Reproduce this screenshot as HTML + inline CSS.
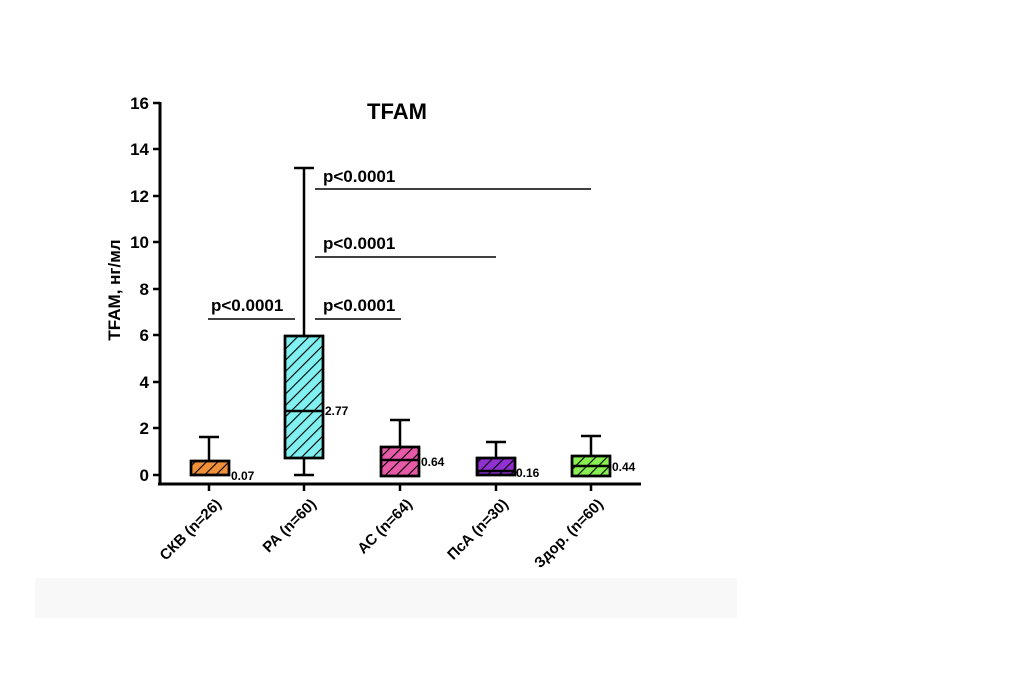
<!DOCTYPE html>
<html><head><meta charset="utf-8"><style>body{margin:0;background:#fff}svg{display:block}</style></head><body>
<svg width="1024" height="683" xmlns="http://www.w3.org/2000/svg" font-family="Liberation Sans, Arial, sans-serif" font-weight="bold">
<defs>
<pattern id="h" patternUnits="userSpaceOnUse" width="8" height="8" patternTransform="rotate(45)"><line x1="0" y1="0" x2="0" y2="8" stroke="#000" stroke-width="2.2"/></pattern>
</defs>
<rect x="35" y="578" width="702" height="40" fill="#f8f8f8"/>
<text x="397" y="119" font-size="22" text-anchor="middle">TFAM</text>
<text transform="translate(120,290) rotate(-90)" font-size="17" text-anchor="middle">TFAM, нг/мл</text>
<g stroke="#000" stroke-width="3" fill="none">
<line x1="160" y1="102" x2="160" y2="484"/>
<line x1="158" y1="484" x2="641" y2="484"/>
</g>
<g stroke="#000" stroke-width="2.5">
<line x1="153" y1="103" x2="160" y2="103"/><line x1="153" y1="149" x2="160" y2="149"/>
<line x1="153" y1="196" x2="160" y2="196"/><line x1="153" y1="242" x2="160" y2="242"/>
<line x1="153" y1="289" x2="160" y2="289"/><line x1="153" y1="335" x2="160" y2="335"/>
<line x1="153" y1="382" x2="160" y2="382"/><line x1="153" y1="428" x2="160" y2="428"/>
<line x1="153" y1="475" x2="160" y2="475"/>
<line x1="209" y1="484" x2="209" y2="491"/><line x1="304" y1="484" x2="304" y2="491"/>
<line x1="400" y1="484" x2="400" y2="491"/><line x1="496" y1="484" x2="496" y2="491"/>
<line x1="591" y1="484" x2="591" y2="491"/>
</g>
<g font-size="17" text-anchor="end">
<text x="149" y="109">16</text><text x="149" y="155">14</text><text x="149" y="202">12</text>
<text x="149" y="248">10</text><text x="149" y="295">8</text><text x="149" y="341">6</text>
<text x="149" y="388">4</text><text x="149" y="434">2</text><text x="149" y="481">0</text>
</g>
<g stroke="#000" stroke-width="2.5">
<line x1="209" y1="437" x2="209" y2="461"/><line x1="199" y1="437" x2="219" y2="437"/>
<rect x="191" y="461" width="38" height="14" fill="#f0913a"/><rect x="191" y="461" width="38" height="14" fill="url(#h)"/>
<line x1="304" y1="168" x2="304" y2="336"/><line x1="294" y1="168" x2="314" y2="168"/>
<line x1="304" y1="458" x2="304" y2="475"/><line x1="294" y1="475" x2="314" y2="475"/>
<rect x="285" y="336" width="38" height="122" fill="#80f0f0"/><rect x="285" y="336" width="38" height="122" fill="url(#h)"/>
<line x1="285" y1="411" x2="323" y2="411"/>
<line x1="400" y1="420" x2="400" y2="447"/><line x1="390" y1="420" x2="410" y2="420"/>
<rect x="381" y="447" width="38" height="29" fill="#e85aa8"/><rect x="381" y="447" width="38" height="29" fill="url(#h)"/>
<line x1="381" y1="460" x2="419" y2="460"/>
<line x1="496" y1="442" x2="496" y2="458"/><line x1="486" y1="442" x2="506" y2="442"/>
<rect x="477" y="458" width="38" height="17" fill="#9030d0"/><rect x="477" y="458" width="38" height="17" fill="url(#h)"/>
<line x1="477" y1="471" x2="515" y2="471"/>
<line x1="591" y1="436" x2="591" y2="456"/><line x1="581" y1="436" x2="601" y2="436"/>
<rect x="572" y="456" width="38" height="20" fill="#88f050"/><rect x="572" y="456" width="38" height="20" fill="url(#h)"/>
<line x1="572" y1="466" x2="610" y2="466"/>
</g>
<g font-size="12">
<text x="231" y="480">0.07</text><text x="325" y="415">2.77</text><text x="421" y="466">0.64</text>
<text x="516" y="477">0.16</text><text x="612" y="471">0.44</text>
</g>
<g stroke="#000" stroke-width="1.5">
<line x1="315" y1="189" x2="591" y2="189"/>
<line x1="315" y1="257" x2="496" y2="257"/>
<line x1="208" y1="319" x2="295" y2="319"/>
<line x1="315" y1="319" x2="401" y2="319"/>
</g>
<g font-size="17">
<text x="323" y="182">p&lt;0.0001</text>
<text x="323" y="249">p&lt;0.0001</text>
<text x="211" y="311">p&lt;0.0001</text>
<text x="323" y="311">p&lt;0.0001</text>
</g>
<g font-size="15" text-anchor="end">
<text transform="translate(222,505) rotate(-45)">СКВ (n=26)</text>
<text transform="translate(317,505) rotate(-45)">РА (n=60)</text>
<text transform="translate(413,505) rotate(-45)">АС (n=64)</text>
<text transform="translate(509,505) rotate(-45)">ПсА (n=30)</text>
<text transform="translate(604,505) rotate(-45)">Здор. (n=60)</text>
</g>
</svg>
</body></html>
